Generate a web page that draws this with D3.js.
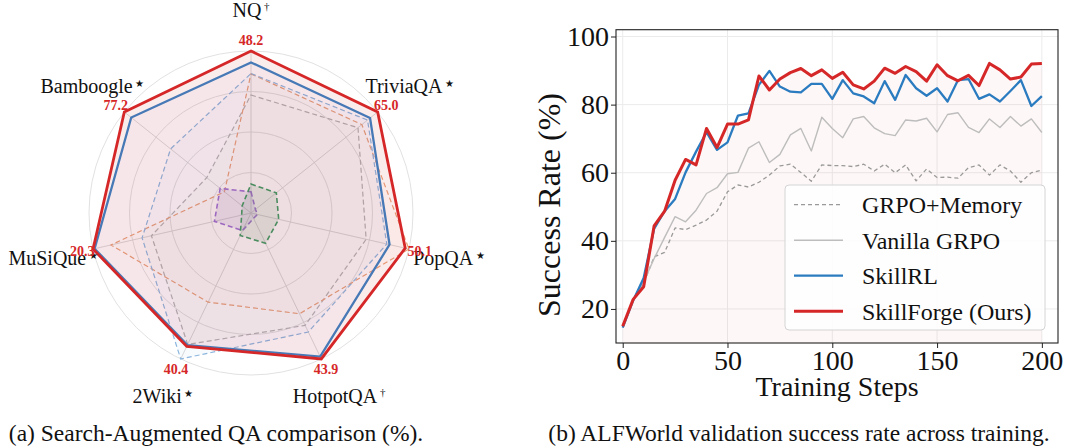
<!DOCTYPE html>
<html>
<head>
<meta charset="utf-8">
<script src="https://cdn.jsdelivr.net/npm/d3@7"></script>
<style>
  html, body { margin: 0; padding: 0; background: #fff; }
  svg { display: block; }
  text { font-family: "Liberation Serif", "Times New Roman", serif; }
</style>
</head>
<body>
<svg id="chart" width="1067" height="448"></svg>
<script>
// ---------------- Data: (a) radar ----------------
const radarAxes = ["NQ", "TriviaQA", "PopQA", "HotpotQA", "2Wiki", "MuSiQue", "Bamboogle"];
const radarMarks = ["†", "★", "★", "†", "★", "★", "★"];
const qaSkillForge = [48.2, 65.0, 50.1, 43.9, 40.4, 20.3, 77.2];
const qaSkillRL    = [44.8, 61.1, 45.0, 43.2, 40.0, 20.1, 73.0];
const qaBaseBlue   = [41.5, 59.8, 44.1, 35.8, 44.2, 14.0, 49.0];
const qaBaseOrange = [41.4, 56.9, 51.3, 30.3, 27.0, 18.0, 16.2];
const qaBaseGrey   = [35.1, 54.9, 37.4, 33.8, 39.8, 12.8, 27.0];
const qaBasePurple = [6.3, 2.3, 2.1, 1.6, 5.3, 4.7, 18.8];
const qaBaseGreen  = [8.6, 13.0, 9.0, 9.1, 6.8, 1.2, 5.4];
const radarRings = [0.25, 0.5, 0.75, 1.0];

// ---------------- Data: (b) training curves ----------------
const steps = [0,5,10,15,20,25,30,35,40,45,50,55,60,65,70,75,80,85,90,95,100,
               105,110,115,120,125,130,135,140,145,150,155,160,165,170,175,180,185,190,195,200];
const grpoMemory = [14.9,22.8,27.5,35.3,36.6,43.8,43.3,44.6,46.1,48.7,54.4,56.4,55.8,57.2,59.3,62.0,62.5,60.1,57.5,62.3,62.1,
                    62.1,61.8,62.5,60.5,62.5,60.0,62.3,57.6,61.1,58.6,58.7,58.4,61.5,62.3,59.3,62.3,60.5,57.2,60.0,60.8];
const vanillaGRPO = [14.9,22.8,27.9,34.8,41.0,47.1,45.6,49.0,53.9,55.6,59.7,60.1,67.2,69.1,63.0,65.4,71.1,73.0,66.4,76.3,73.0,
                     70.3,75.8,76.5,73.2,71.5,70.9,75.5,75.2,76.0,72.0,77.1,77.6,73.3,71.8,75.8,73.3,76.5,73.7,75.8,71.8];
const skillRL = [14.5,22.5,29.1,43.6,48.7,52.3,60.1,66.2,71.9,66.7,68.9,76.8,77.4,85.8,89.9,85.3,83.8,83.6,86.1,86.1,81.7,
                 87.2,83.3,82.4,80.4,86.9,81.4,88.7,84.8,82.6,84.8,80.9,87.2,87.5,81.7,83.0,80.9,84.0,87.2,79.6,82.5];
const skillForge = [14.9,22.8,26.5,44.4,48.7,57.8,63.9,62.3,73.0,67.4,74.3,74.3,75.5,88.4,84.3,87.5,89.4,90.6,88.5,90.2,87.7,
                    89.5,85.8,84.6,86.9,90.7,89.2,91.2,89.7,86.9,91.7,88.5,87.0,88.6,85.6,92.1,90.2,87.5,88.1,91.9,92.1];
const xTicks = [0, 50, 100, 150, 200];
const yTicks = [20, 40, 60, 80, 100];
const legendNames = ["GRPO+Memory", "Vanilla GRPO", "SkillRL", "SkillForge (Ours)"];

const svg = d3.select("#chart");

// ================= (a) Radar =================
(function radar() {
  const cx = 251, cy = 213, R = 162;
  const n = radarAxes.length;
  const angle = d3.scaleLinear().domain([0, n]).range([0, 2 * Math.PI]);
  const r = d3.scaleLinear().domain([0, 1]).range([0, R]);
  const all = [qaSkillForge, qaSkillRL, qaBaseBlue, qaBaseOrange, qaBaseGrey, qaBasePurple, qaBaseGreen];
  const axisMax = radarAxes.map((_, i) => d3.max(all, s => s[i]));
  const norm = s => s.map((v, i) => v / axisMax[i]);

  const g = svg.append("g").attr("transform", `translate(${cx},${cy})`);
  // grid
  g.selectAll("circle.ring").data(radarRings).join("circle")
    .attr("r", d => r(d)).attr("fill", "none")
    .attr("stroke", "#dedede").attr("stroke-width", 0.9);
  g.selectAll("line.spoke").data(radarAxes).join("line")
    .attr("x1", 0).attr("y1", 0)
    .attr("x2", (d, i) => r(1) * Math.sin(angle(i)))
    .attr("y2", (d, i) => -r(1) * Math.cos(angle(i)))
    .attr("stroke", "#d6d6d6").attr("stroke-width", 0.9);

  const line = d3.lineRadial()
    .angle((d, i) => angle(i))
    .radius(d => r(d))
    .curve(d3.curveLinearClosed);

  const series = [
    { v: qaBaseGrey,   stroke: "#b5b5b5", fill: "#999999", fo: 0.015, w: 1.2, dash: "5,3" },
    { v: qaBaseOrange, stroke: "#e9a27a", fill: "#ff7f0e", fo: 0.02, w: 1.2, dash: "5,3" },
    { v: qaBaseBlue,   stroke: "#8cb6de", fill: "#1f77b4", fo: 0.03, w: 1.2, dash: "5,3" },
    { v: qaBasePurple, stroke: "#9b72d0", fill: "#9467bd", fo: 0.14, w: 1.6, dash: "5,3" },
    { v: qaBaseGreen,  stroke: "#3e9a62", fill: "#4a8a5a", fo: 0.13, w: 1.6, dash: "5,3" },
    { v: qaSkillRL,    stroke: "#3a82c4", fill: "#6a3fb0", fo: 0.03, w: 2.3, dash: null },
    { v: qaSkillForge, stroke: "#d62728", fill: "#d62728", fo: 0.085, w: 2.8, dash: null }
  ];
  series.forEach(s => {
    g.append("path").datum(norm(s.v)).attr("d", line)
      .attr("fill", s.fill).attr("fill-opacity", s.fo)
      .attr("stroke", s.stroke).attr("stroke-width", s.w)
      .attr("stroke-dasharray", s.dash).attr("stroke-linejoin", "miter");
  });

  // category labels
  const labR = 203;
  radarAxes.forEach((name, i) => {
    const a = angle(i);
    const t = g.append("text")
      .attr("x", labR * Math.sin(a)).attr("y", -labR * Math.cos(a))
      .attr("dy", "0.35em").attr("text-anchor", "middle")
      .attr("font-size", 20).attr("fill", "#111");
    t.append("tspan").text(name);
    t.append("tspan").text(" " + radarMarks[i])
      .attr("font-size", radarMarks[i] === "†" ? 11 : 10).attr("dy", "-0.6em");
  });
  // value labels (ours)
  const valR = 173;
  qaSkillForge.forEach((v, i) => {
    const a = angle(i);
    g.append("text")
      .attr("x", valR * Math.sin(a)).attr("y", -valR * Math.cos(a))
      .attr("dy", "0.35em").attr("text-anchor", "middle")
      .attr("font-size", 14).attr("font-weight", "bold").attr("fill", "#d62728")
      .text(v.toFixed(1));
  });

  svg.append("text").attr("x", 216).attr("y", 441).attr("text-anchor", "middle")
    .attr("font-size", 23.5).attr("fill", "#111")
    .text("(a) Search-Augmented QA comparison (%).");
})();

// ================= (b) Line chart =================
(function lines() {
  const left = 616, right = 1058, top = 29.7, bottom = 343;
  const x = d3.scaleLinear().domain([-3.2, 207.7]).range([left, right]);
  const y = d3.scaleLinear().domain([10, 102]).range([bottom, top]);
  const g = svg.append("g");

  // grid
  g.selectAll("line.vg").data(xTicks).join("line")
    .attr("x1", d => x(d)).attr("x2", d => x(d)).attr("y1", top).attr("y2", bottom)
    .attr("stroke", "#ebebeb").attr("stroke-width", 1);
  g.selectAll("line.hg").data(yTicks).join("line")
    .attr("y1", d => y(d)).attr("y2", d => y(d)).attr("x1", left).attr("x2", right)
    .attr("stroke", "#ebebeb").attr("stroke-width", 1);

  // fill under ours
  const area = d3.area().x((d, i) => x(steps[i])).y0(bottom).y1(d => y(d));
  g.append("path").datum(skillForge).attr("d", area)
    .attr("fill", "#d62728").attr("fill-opacity", 0.035);

  const ln = d3.line().x((d, i) => x(steps[i])).y(d => y(d));
  const lineSeries = [
    { v: grpoMemory, c: "#9a9a9a", w: 1.3, dash: "4,3" },
    { v: vanillaGRPO, c: "#bdbdbd", w: 1.4, dash: null },
    { v: skillRL, c: "#2a7bbf", w: 2.3, dash: null },
    { v: skillForge, c: "#d62728", w: 3.0, dash: null }
  ];
  lineSeries.forEach(s => {
    g.append("path").datum(s.v).attr("d", ln).attr("fill", "none")
      .attr("stroke", s.c).attr("stroke-width", s.w).attr("stroke-dasharray", s.dash)
      .attr("stroke-linejoin", "round");
  });

  // frame
  g.append("rect").attr("x", left).attr("y", top).attr("width", right - left).attr("height", bottom - top)
    .attr("fill", "none").attr("stroke", "#222").attr("stroke-width", 1.1);

  // axes
  const xa = g.append("g").attr("transform", `translate(0,${bottom})`)
    .call(d3.axisBottom(x).tickValues(xTicks).tickSize(5).tickPadding(2).tickFormat(d3.format("d")));
  const ya = g.append("g").attr("transform", `translate(${left},0)`)
    .call(d3.axisLeft(y).tickValues(yTicks).tickSize(5).tickPadding(2).tickFormat(d3.format("d")));
  [xa, ya].forEach(a => {
    a.select(".domain").remove();
    a.selectAll("line").attr("stroke", "#222");
    a.selectAll("text").attr("font-size", 28).attr("fill", "#111")
      .attr("font-family", "Liberation Serif");
  });

  g.append("text").attr("x", (left + right) / 2).attr("y", 396).attr("text-anchor", "middle")
    .attr("font-size", 28).attr("fill", "#111").text("Training Steps");
  g.append("text").attr("transform", `translate(560,205) rotate(-90)`).attr("text-anchor", "middle")
    .attr("font-size", 32).attr("fill", "#111").text("Success Rate (%)");

  // legend
  const lg = g.append("g");
  lg.append("rect").attr("x", 785).attr("y", 185).attr("width", 260).attr("height", 145)
    .attr("rx", 4).attr("fill", "#fff").attr("fill-opacity", 0.85)
    .attr("stroke", "#d4d4d4").attr("stroke-width", 1);
  const rowsY = [204.7, 240.2, 275.7, 311.2];
  lineSeries.forEach((s, i) => {
    lg.append("line").attr("x1", 794).attr("x2", 843).attr("y1", rowsY[i]).attr("y2", rowsY[i])
      .attr("stroke", s.c).attr("stroke-width", s.w).attr("stroke-dasharray", s.dash);
    lg.append("text").attr("x", 862).attr("y", rowsY[i]).attr("dy", "0.35em")
      .attr("font-size", 24).attr("fill", "#111").text(legendNames[i]);
  });

  svg.append("text").attr("x", 799).attr("y", 441).attr("text-anchor", "middle")
    .attr("font-size", 23.5).attr("fill", "#111")
    .text("(b) ALFWorld validation success rate across training.");
})();
</script>
</body>
</html>
